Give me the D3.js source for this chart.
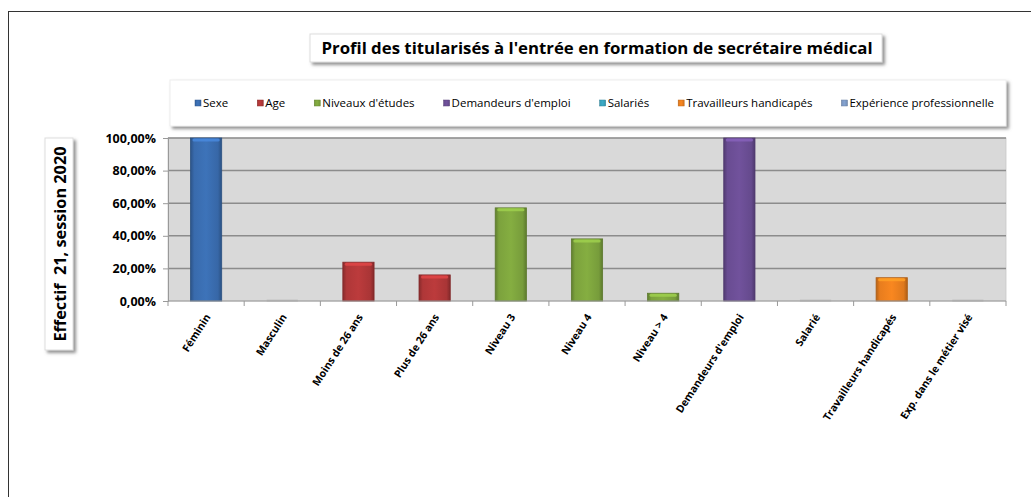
<!DOCTYPE html>
<html>
<head>
<meta charset="utf-8">
<script src="https://cdn.jsdelivr.net/npm/d3@7"></script>
<style>
  body { margin: 0; background: #fff; }
  svg { font-family: "Open Sans", "Noto Sans", sans-serif; }
</style>
</head>
<body>
<svg width="1031" height="497"></svg>
<script>
const svg = d3.select("svg");

// data
const seriesNames = ["Sexe", "Age", "Niveaux d'études", "Demandeurs d'emploi", "Salariés", "Travailleurs handicapés", "Expérience professionnelle"];
const seriesColors = ["#3b6fb3", "#b5393a", "#80a83f", "#6d4f97", "#3aa5c0", "#f0821f", "#7f9dc9"];
const categories = ["Féminin", "Masculin", "Moins de 26 ans", "Plus de 26 ans", "Niveau 3", "Niveau 4", "Niveau > 4", "Demandeurs d'emploi", "Salarié", "Travailleurs handicapés", "Exp. dans le métier visé"];
const categorySeries = [0, 0, 1, 1, 2, 2, 2, 3, 4, 5, 6];
const values = [1, 0, 0.2381, 0.16, 0.5714, 0.381, 0.0476, 1, 0, 0.1429, 0];
const yTicks = [0, 0.2, 0.4, 0.6, 0.8, 1];

const title = "Profil des titularisés à l'entrée en formation de secrétaire médical";
const yTitle = "Effectif  21, session 2020";

const data = categories.map((c, i) => ({ name: c, value: values[i], s: categorySeries[i] }));

// chart frame (right edge runs off the picture)
svg.append("rect")
  .attr("x", 8.5).attr("y", 11.5)
  .attr("width", 1040).attr("height", 500)
  .attr("fill", "#fff").attr("stroke", "#333").attr("stroke-width", 1);

const defs = svg.append("defs");
const shadow = defs.append("filter").attr("id", "shadow")
  .attr("x", "-10%").attr("y", "-20%").attr("width", "130%").attr("height", "160%");
shadow.append("feDropShadow").attr("dx", 2.5).attr("dy", 2.5).attr("stdDeviation", 1.5)
  .attr("flood-color", "#777").attr("flood-opacity", 0.8);

// gradients for bars
seriesColors.forEach((col, i) => {
  const c = d3.color(col);
  const g = defs.append("linearGradient").attr("id", "g" + i)
    .attr("x1", 0).attr("x2", 1).attr("y1", 0).attr("y2", 0);
  g.append("stop").attr("offset", "0%").attr("stop-color", c.darker(0.8));
  g.append("stop").attr("offset", "12%").attr("stop-color", c.darker(0.1));
  g.append("stop").attr("offset", "50%").attr("stop-color", c.brighter(0.1));
  g.append("stop").attr("offset", "88%").attr("stop-color", c.darker(0.2));
  g.append("stop").attr("offset", "100%").attr("stop-color", c.darker(0.9));
});

// title
const titleG = svg.append("g");
titleG.append("rect")
  .attr("x", 310).attr("y", 34).attr("width", 572).attr("height", 28)
  .attr("fill", "#fff").attr("stroke", "#ddd").attr("filter", "url(#shadow)");
titleG.append("text")
  .attr("x", 597).attr("y", 54)
  .attr("text-anchor", "middle")
  .attr("font-size", 16.8).attr("font-weight", "bold")
  .attr("fill", "#000")
  .text(title);

// legend
const legendG = svg.append("g");
legendG.append("rect")
  .attr("x", 170).attr("y", 80).attr("width", 836).attr("height", 46)
  .attr("fill", "#fff").attr("stroke", "#eee").attr("filter", "url(#shadow)");

const items = legendG.selectAll("g.item").data(seriesNames).enter()
  .append("g").attr("class", "item");
items.append("rect")
  .attr("width", 6).attr("height", 6).attr("y", 100)
  .attr("fill", (d, i) => `url(#g${i})`)
  .attr("stroke", (d, i) => d3.color(seriesColors[i]).darker(0.6)).attr("stroke-width", 0.5);
items.append("text")
  .attr("y", 107).attr("font-size", 11.5).attr("fill", "#000")
  .text((d) => d);

const widths = [];
items.select("text").each(function () { widths.push(this.getComputedTextLength()); });
const legendStart = 195, legendEnd = 994;
const used = d3.sum(widths) + seriesNames.length * 8;
const gap = (legendEnd - legendStart - used) / (seriesNames.length - 1);
let lx = legendStart;
items.each(function (d, i) {
  const it = d3.select(this);
  it.select("rect").attr("x", lx);
  it.select("text").attr("x", lx + 8);
  lx += 8 + widths[i] + gap;
});

// plot area
const plotLeft = 168, plotRight = 1006, plotTop = 138, plotBottom = 301;

const x = d3.scaleBand().domain(categories).range([plotLeft, plotRight]).padding(0);
const y = d3.scaleLinear().domain([0, 1]).range([plotBottom, plotTop]);

svg.append("rect")
  .attr("x", plotLeft).attr("y", plotTop)
  .attr("width", plotRight - plotLeft).attr("height", plotBottom - plotTop)
  .attr("fill", "#d9d9d9").attr("stroke", "#c8c8c8").attr("stroke-width", 0.8);

svg.append("g").selectAll("line").data(yTicks.slice(1)).enter()
  .append("line")
  .attr("x1", plotLeft).attr("x2", plotRight)
  .attr("y1", (d) => y(d)).attr("y2", (d) => y(d))
  .attr("stroke", "#8c8c8c").attr("stroke-width", 1.5);

// y axis
const fr = d3.formatLocale({ decimal: ",", thousands: " ", grouping: [3], currency: ["", "€"] });
const yAxis = d3.axisLeft(y).tickValues(yTicks).tickFormat(fr.format(".2%")).tickSize(5).tickPadding(7);
const yAxisG = svg.append("g").attr("transform", `translate(${plotLeft},0)`).call(yAxis);
yAxisG.select(".domain").attr("stroke", "#999");
yAxisG.selectAll(".tick line").attr("stroke", "#999");
yAxisG.selectAll(".tick text")
  .attr("font-family", "'Open Sans', 'Noto Sans', sans-serif")
  .attr("font-size", 12.5).attr("font-weight", "bold").attr("fill", "#000");

// bars
const bw = x.bandwidth() * 0.41;
const bars = svg.append("g").selectAll("g").data(data).enter().append("g");

bars.filter((d) => d.value > 0).append("rect")
  .attr("x", (d) => x(d.name) + (x.bandwidth() - bw) / 2)
  .attr("y", (d) => y(d.value))
  .attr("width", bw)
  .attr("height", (d) => y(0) - y(d.value))
  .attr("fill", (d) => `url(#g${d.s})`)
  .attr("stroke", (d) => d3.color(seriesColors[d.s]).darker(0.9))
  .attr("stroke-width", 0.8);

bars.filter((d) => d.value > 0).append("rect")
  .attr("x", (d) => x(d.name) + (x.bandwidth() - bw) / 2 + 2)
  .attr("y", (d) => y(d.value) + 0.5)
  .attr("width", bw - 4)
  .attr("height", 3)
  .attr("rx", 1.5)
  .attr("fill", (d) => d3.color(seriesColors[d.s]).brighter(0.6))
  .attr("opacity", 0.85);

// empty bars show a faint cap
bars.filter((d) => d.value === 0).append("rect")
  .attr("x", (d) => x(d.name) + (x.bandwidth() - bw) / 2)
  .attr("y", y(0) - 1.5)
  .attr("width", bw)
  .attr("height", 2)
  .attr("fill", "#c4c4c4");

// x axis
const xAxisG = svg.append("g").attr("transform", `translate(0,${plotBottom})`);
xAxisG.append("line").attr("x1", plotLeft).attr("x2", plotRight).attr("stroke", "#999");
xAxisG.selectAll("line.tick").data(d3.range(categories.length + 1)).enter()
  .append("line")
  .attr("x1", (i) => plotLeft + i * x.step()).attr("x2", (i) => plotLeft + i * x.step())
  .attr("y1", 0).attr("y2", 5)
  .attr("stroke", "#999");

xAxisG.selectAll("text").data(categories).enter()
  .append("text")
  .attr("transform", (d) => `translate(${x(d) + x.bandwidth() / 2 + 5},${16}) rotate(-57)`)
  .attr("text-anchor", "end")
  .attr("font-size", 10.5).attr("font-weight", "bold").attr("fill", "#000")
  .text((d) => d);

// y title box
const yt = svg.append("g");
yt.append("rect")
  .attr("x", 45).attr("y", 138).attr("width", 28).attr("height", 212)
  .attr("fill", "#fff").attr("stroke", "#ddd").attr("filter", "url(#shadow)");
yt.append("text")
  .attr("transform", "translate(65.5,244) rotate(-90)")
  .attr("text-anchor", "middle")
  .attr("font-size", 16.3).attr("font-weight", "bold")
  .attr("xml:space", "preserve")
  .style("white-space", "pre")
  .attr("fill", "#000")
  .text(yTitle);
</script>
</body>
</html>
